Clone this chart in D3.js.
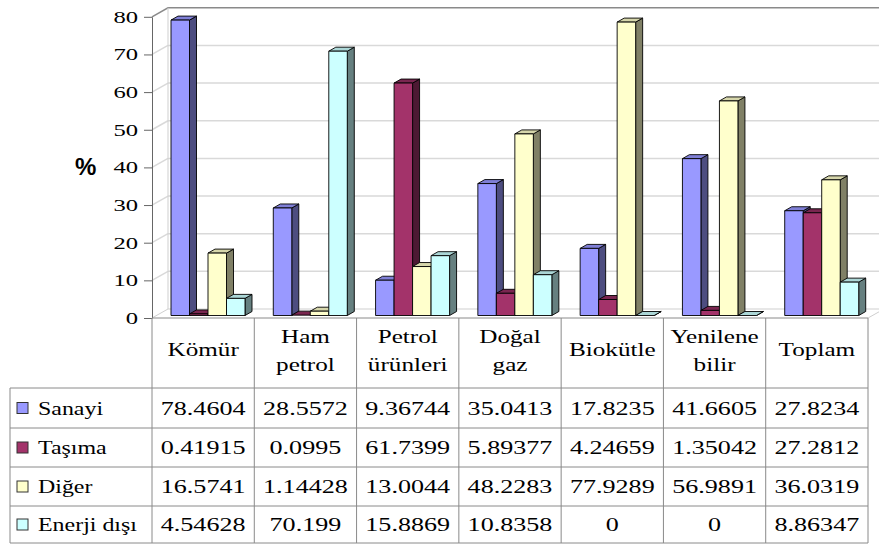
<!DOCTYPE html>
<html>
<head>
<meta charset="utf-8">
<title>Sektörlere göre enerji tüketimi</title>
<script src="https://d3js.org/d3.v7.min.js"></script>
<style>
  body { margin: 0; background: #fff; }
  .tbl { stroke: #8a8a8a; stroke-width: 1; }
  .grid { stroke: #d9d9d9; stroke-width: 1.5; }
</style>
</head>
<body>
<div id="chart"></div>
<script>
// data
const categories = ["Kömür", "Ham petrol", "Petrol ürünleri", "Doğal gaz", "Biokütle", "Yenilene bilir", "Toplam"];
const series = ["Sanayi", "Taşıma", "Diğer", "Enerji dışı"];
const sanayi = [78.4604, 28.5572, 9.36744, 35.0413, 17.8235, 41.6605, 27.8234];
const tasima = [0.41915, 0.0995, 61.7399, 5.89377, 4.24659, 1.35042, 27.2812];
const diger = [16.5741, 1.14428, 13.0044, 48.2283, 77.9289, 56.9891, 36.0319];
const enerjiDisi = [4.54628, 70.199, 15.8869, 10.8358, 0, 0, 8.86347];
const yTicks = [0, 10, 20, 30, 40, 50, 60, 70, 80];

const values = [sanayi, tasima, diger, enerjiDisi];
const colors = [
  { front: "#9999FF", top: "#7f7fd6", side: "#4d4d80" },
  { front: "#A3336A", top: "#7a2650", side: "#4d1933" },
  { front: "#FFFFCC", top: "#d6d6ab", side: "#808066" },
  { front: "#CCFFFF", top: "#abd6d6", side: "#668080" }
];

const SERIF = "'Liberation Serif', 'Times New Roman', 'DejaVu Serif', serif";
const width = 879, height = 545;
const sx = 1.4;           // the picture's text is stretched sideways
const wallDx = 16, wallDy = -9;
const barDx = 7, barDy = -4, barShift = -2.5;

const svg = d3.select("#chart").append("svg")
  .attr("width", width).attr("height", height);

const x = d3.scaleBand().domain(categories).range([152, 868]);
const xs = d3.scaleBand().domain(series).range([19, 93]);
const y = d3.scaleLinear().domain([0, 80]).range([318, 16.8]);

// walls
const walls = svg.append("g");
walls.selectAll("line.side").data(yTicks.slice(1, -1)).enter().append("line")
  .attr("class", "grid")
  .attr("x1", 152).attr("y1", d => y(d))
  .attr("x2", 152 + wallDx).attr("y2", d => y(d) + wallDy);
walls.selectAll("line.back").data(yTicks.slice(1, -1)).enter().append("line")
  .attr("class", "grid")
  .attr("x1", 152 + wallDx).attr("y1", d => y(d) + wallDy)
  .attr("x2", width).attr("y2", d => y(d) + wallDy);
// wall outline
walls.append("path")
  .attr("d", `M152,${y(80)} L${152 + wallDx},${y(80) + wallDy} L${width},${y(80) + wallDy}`)
  .attr("fill", "none").attr("stroke", "#8a8a8a").attr("stroke-width", 1.5);
walls.append("path")
  .attr("d", `M${152 + wallDx},${y(80) + wallDy} L${152 + wallDx},${y(0) + wallDy} L${868 + wallDx},${y(0) + wallDy} M152,${y(0)} L${152 + wallDx},${y(0) + wallDy} M868,${y(0)} L${868 + wallDx},${y(0) + wallDy}`)
  .attr("fill", "none").attr("stroke", "#cfcfcf").attr("stroke-width", 1);

// y axis
const yAxis = svg.append("g")
  .attr("transform", "translate(152,0)")
  .call(d3.axisLeft(y).tickValues(yTicks).tickSize(8).tickSizeOuter(0).tickFormat(d3.format("d")));
yAxis.attr("font-family", null);
yAxis.select(".domain").attr("stroke", "#666");
yAxis.selectAll(".tick line").attr("stroke", "#666");
yAxis.selectAll(".tick text")
  .style("font-family", SERIF)
  .style("font-size", "17px")
  .attr("fill", "#000")
  .attr("x", -14 / 1.45)
  .attr("transform", "scale(1.45,1)");

svg.append("text")
  .attr("x", 75).attr("y", 175)
  .style("font-family", "'Liberation Sans', Arial, sans-serif")
  .style("font-weight", "bold").style("font-size", "24px")
  .text("%");

// bars
const bars = [];
categories.forEach((c, ci) => {
  series.forEach((s, si) => bars.push({ cat: c, ser: s, si: si, v: values[si][ci] }));
});

const barW = xs.bandwidth();
const barG = svg.append("g").selectAll("g").data(bars).enter().append("g")
  .attr("stroke", "#000").attr("stroke-width", 0.9).attr("stroke-linejoin", "round");

barG.each(function (d) {
  const g = d3.select(this);
  const xl = x(d.cat) + xs(d.ser);
  const yb = y(0) + barShift;
  const yt = y(d.v) + barShift;
  const col = colors[d.si];
  g.append("polygon")
    .attr("points", [[xl + barW, yt], [xl + barW + barDx, yt + barDy], [xl + barW + barDx, yb + barDy], [xl + barW, yb]].join(" "))
    .attr("fill", col.side);
  g.append("polygon")
    .attr("points", [[xl, yt], [xl + barW, yt], [xl + barW + barDx, yt + barDy], [xl + barDx, yt + barDy]].join(" "))
    .attr("fill", col.top);
  if (yb - yt > 0.5) {
    g.append("rect")
      .attr("x", xl).attr("y", yt)
      .attr("width", barW).attr("height", yb - yt)
      .attr("fill", col.front);
  }
});

// data table
const tableTop = 318, headBottom = 388, tableBottom = 543;
const rowEdges = [388, 428, 467, 506, 543];
const tbl = svg.append("g");
tbl.append("line").attr("class", "tbl").attr("x1", 152).attr("x2", 868).attr("y1", tableTop).attr("y2", tableTop);
tbl.selectAll("line.row").data(rowEdges).enter().append("line")
  .attr("class", "tbl").attr("x1", 10).attr("x2", 868)
  .attr("y1", d => d).attr("y2", d => d);
tbl.append("line").attr("class", "tbl").attr("x1", 10).attr("x2", 10).attr("y1", headBottom).attr("y2", tableBottom);
tbl.selectAll("line.col").data(categories.map(c => x(c)).concat([868])).enter().append("line")
  .attr("class", "tbl").attr("x1", d => d).attr("x2", d => d)
  .attr("y1", tableTop).attr("y2", tableBottom);

function stretched(sel, px, py, txt, size, anchor, k) {
  sel.append("text")
    .attr("transform", `translate(${px},${py}) scale(${k || sx},1)`)
    .attr("text-anchor", anchor)
    .attr("fill", "#000")
    .style("font-family", SERIF)
    .style("font-size", size + "px")
    .text(txt);
}

// header labels
categories.forEach(c => {
  const parts = c.split(" ");
  const cx = x(c) + x.bandwidth() / 2;
  if (parts.length === 1) {
    stretched(tbl, cx, 356, parts[0], 18, "middle");
  } else {
    stretched(tbl, cx, 343, parts[0], 18, "middle");
    stretched(tbl, cx, 371, parts[1], 18, "middle");
  }
});

// legend keys and values
series.forEach((s, si) => {
  const mid = (rowEdges[si] + rowEdges[si + 1]) / 2;
  tbl.append("rect")
    .attr("x", 17).attr("y", mid - 5.5)
    .attr("width", 11).attr("height", 11)
    .attr("fill", colors[si].front)
    .attr("stroke", "#333").attr("stroke-width", 1);
  stretched(tbl, 38, mid + 6.5, s, 18, "start", 1.33);
  categories.forEach((c, ci) => {
    stretched(tbl, x(c) + x.bandwidth() / 2, mid + 6.5, String(values[si][ci]), 18, "middle", 1.45);
  });
});
</script>
</body>
</html>
